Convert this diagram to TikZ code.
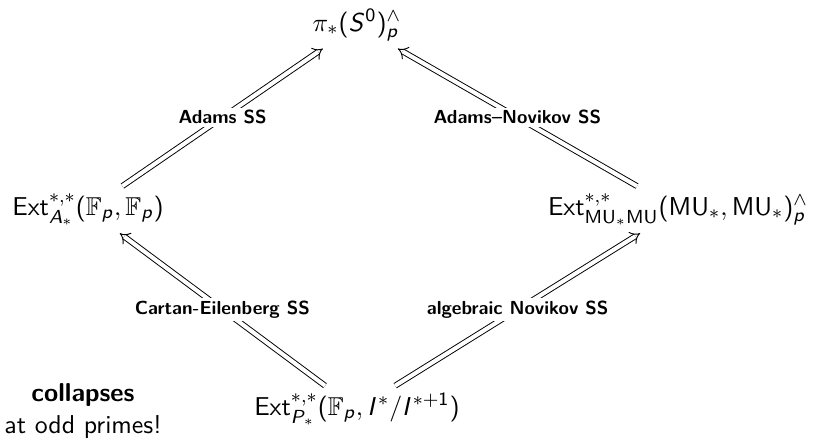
\documentclass[11pt,tikz,border=0pt]{standalone}
\usepackage{amssymb}
\usetikzlibrary{arrows.meta}
% sans serif math, as in a slide
\DeclareSymbolFont{operators}{OT1}{cmss}{m}{n}
\DeclareSymbolFont{sfslanted}{OT1}{cmss}{m}{sl}
\DeclareMathSymbol{S}{\mathalpha}{sfslanted}{`S}
\DeclareMathSymbol{p}{\mathalpha}{sfslanted}{`p}
\DeclareMathSymbol{A}{\mathalpha}{sfslanted}{`A}
\DeclareMathSymbol{P}{\mathalpha}{sfslanted}{`P}
\DeclareMathSymbol{I}{\mathalpha}{sfslanted}{`I}
\tikzset{
  obj/.style={font=\sffamily,inner sep=3pt},
  ssarrow/.style={-{Implies},double,double equal sign distance,thin},
  sslabel/.style={font=\sffamily\scriptsize\bfseries,fill=white,inner sep=1pt},
  smallnote/.style={font=\sffamily,align=center,inner sep=0pt}
}
\begin{document}
\begin{tikzpicture}[x=0.014885cm,y=-0.014885cm]
    \useasboundingbox (0,0) rectangle (823,439);
    \node[obj,anchor=base] (homotopy) at (357,31) {$\pi_*(S^0)^\wedge_p$};
    \node[obj,anchor=base] (extA) at (88,215) {$\mathrm{Ext}^{*,*}_{A_*}(\mathbb{F}_p,\mathbb{F}_p)$};
    \node[obj,anchor=base] (extMU) at (678,215) {$\mathrm{Ext}^{*,*}_{\mathrm{MU}_*\mathrm{MU}}(\mathrm{MU}_*,\mathrm{MU}_*)^\wedge_p$};
    \node[obj,anchor=base] (extP) at (357,415) {$\mathrm{Ext}^{*,*}_{P_*}(\mathbb{F}_p,I^*/I^{*+1})$};
    \node[smallnote] (odd) at (83,411) {\textbf{collapses}\\at odd primes!};
    \draw[ssarrow] (extA) -- node[sslabel] {Adams SS} (homotopy);
    \draw[ssarrow] (extMU) -- node[sslabel] {Adams--Novikov SS} (homotopy);
    \draw[ssarrow] (extP) -- node[sslabel] {Cartan-Eilenberg SS} (extA);
    \draw[ssarrow] (extP) -- node[sslabel] {algebraic Novikov SS} (extMU);
  \end{tikzpicture}
\end{document}
